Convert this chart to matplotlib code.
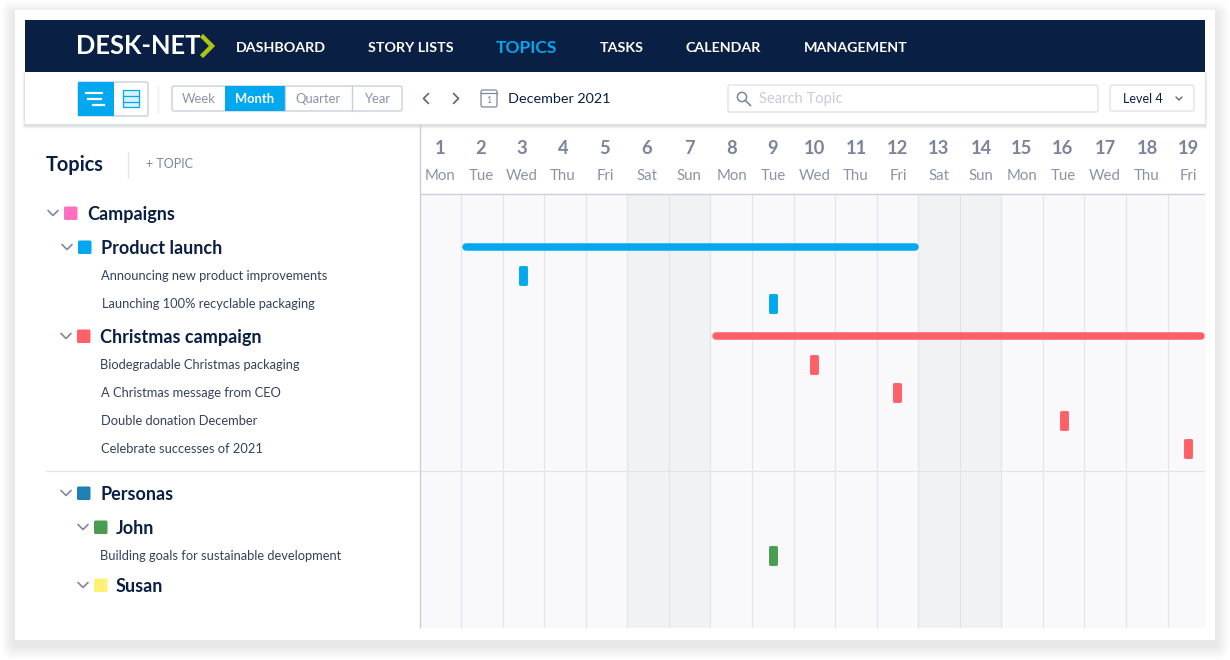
import matplotlib
matplotlib.use("Agg")
import matplotlib.pyplot as plt
from matplotlib.patches import Rectangle, FancyBboxPatch

plt.rcParams['font.family'] = ['Lato', 'DejaVu Sans']

# --- datos ---
nav_items = ["DASHBOARD", "STORY LISTS", "TOPICS", "TASKS", "CALENDAR", "MANAGEMENT"]
range_options = ["Week", "Month", "Quarter", "Year"]
days = list(range(1, 20))
weekdays = ["Mon", "Tue", "Wed", "Thu", "Fri", "Sat", "Sun",
            "Mon", "Tue", "Wed", "Thu", "Fri", "Sat", "Sun",
            "Mon", "Tue", "Wed", "Thu", "Fri"]
weekend_days = [6, 7, 13, 14]

group_names = ["Campaigns", "Product launch", "Christmas campaign", "Personas", "John", "Susan"]
group_colors = ["#ff6fbd", "#00a8f0", "#ff5f66", "#1f80b5", "#4a9c50", "#fff176"]
topic_names = ["Announcing new product improvements", "Launching 100% recyclable packaging",
               "Biodegradable Christmas packaging", "A Christmas message from CEO",
               "Double donation December", "Celebrate successes of 2021",
               "Building goals for sustainable development"]

span_names = ["Product launch", "Christmas campaign"]
span_start = [2.13, 8.13]
span_end = [12.93, 19.8]
span_colors = ["#00a8f0", "#ff5f66"]

topic_day = [3, 9, 10, 12, 16, 19, 9]
topic_colors = ["#00a8f0", "#00a8f0", "#ff5f66", "#ff5f66", "#ff5f66", "#ff5f66", "#4a9c50"]

# --- layout en pixeles ---
NAVY = "#0a1f44"
BLUE = "#00a8f0"
GREY = "#7d879c"
TEXT = "#33415c"
LINE = "#d9dde5"
nav_x = [236, 368, 496, 600, 686, 804]
range_edges = [172, 225, 285, 352, 402]
group_y = [213, 247, 336, 493, 527, 585]
group_x = [64, 78, 77, 77, 94, 94]
group_text_x = [87, 101, 100, 100, 116, 116]
topic_y = [275, 303, 364, 392, 420, 448, 555]
topic_x = [101, 102, 100, 101, 101, 101, 100]
span_y = [247, 336]
day_label_x = [440, 481, 522, 563, 605, 647, 689, 732, 773, 815, 856, 898, 939, 981, 1022, 1063, 1105, 1147, 1188]
GRID_LEFT, GRID_RIGHT, GRID_TOP, GRID_BOTTOM = 419.5, 1205, 194.5, 628
DAY_W = 41.56

fig = plt.figure(figsize=(12.3, 6.6), dpi=100, facecolor="white")
W, H = 1230, 660
bg = fig.add_axes([0, 0, 1, 1])
bg.set_xlim(0, W)
bg.set_ylim(H, 0)
bg.axis("off")


def sombra(x0, y0, x1, y1, capas=10, paso=1.5, dy=2, alpha=0.018, z=1):
    for i in range(capas, 0, -1):
        e = i * paso
        bg.add_patch(FancyBboxPatch((x0 - e, y0 - e + dy), x1 - x0 + 2 * e, y1 - y0 + 2 * e,
                                    boxstyle="round,pad=0,rounding_size=%.1f" % e, fc="#1a2540",
                                    ec="none", alpha=alpha, zorder=z))


def caja(x0, y0, x1, y1, fc="white", ec=LINE, lw=1, r=2, z=5):
    bg.add_patch(FancyBboxPatch((x0, y0), x1 - x0, y1 - y0,
                                boxstyle="round,pad=0,rounding_size=%.1f" % r, fc=fc, ec=ec, lw=lw, zorder=z))


def chevron(x, y, s=5, d="down", color=GREY, lw=1.2):
    if d == "down":
        xs, ys = [x - s, x, x + s], [y - s * 0.5, y + s * 0.5, y - s * 0.5]
    elif d == "left":
        xs, ys = [x + s * 0.5, x - s * 0.5, x + s * 0.5], [y - s, y, y + s]
    else:
        xs, ys = [x - s * 0.5, x + s * 0.5, x - s * 0.5], [y - s, y, y + s]
    bg.plot(xs, ys, color=color, lw=lw, zorder=7, solid_capstyle="round")


def txt(x, y, s, size, color=TEXT, weight="normal", ha="left"):
    bg.text(x, y + 1.3, s, fontsize=size, color=color, fontweight=weight, ha=ha, va="center", zorder=8)


# tarjeta
sombra(15, 10, 1215, 640, capas=12, paso=1.2, dy=5, alpha=0.009)
bg.add_patch(Rectangle((15, 10), 1200, 630, fc="white", ec="none", zorder=2))

# barra superior
bg.add_patch(Rectangle((25, 20), 1180, 52, fc=NAVY, ec="none", zorder=4))
txt(76, 45, "DESK-NET", 18.4, "white", "bold")
bg.plot([203, 212, 203], [37, 46, 55], color="#a9c516", lw=3.2, zorder=8, solid_joinstyle="miter")
for i, nombre in enumerate(nav_items):
    if nombre == "TOPICS":
        txt(nav_x[i], 46.5, nombre, 12.6, BLUE, "bold")
    else:
        txt(nav_x[i], 46.5, nombre, 10.3, "white", "bold")

# barra de herramientas
sombra(25, 72, 1205, 124, capas=4, paso=0.6, dy=2, alpha=0.035, z=3)
bg.add_patch(Rectangle((25, 72), 1180, 52, fc="white", ec="none", zorder=4))
caja(78, 82, 148, 116, ec="#c9d0dc")
bg.add_patch(Rectangle((78, 82), 36, 34, fc=BLUE, ec="none", zorder=6))
for (xa, xb, yy) in [(86, 102, 92.5), (88, 101, 98.5), (93, 104, 104.5)]:
    bg.plot([xa, xb], [yy, yy], color="white", lw=1.6, zorder=7)
bg.add_patch(Rectangle((123, 90), 16, 17, fc="#d8f1fd", ec=BLUE, lw=0.9, zorder=7))
for yy in [96, 101.5]:
    bg.plot([123, 139], [yy, yy], color=BLUE, lw=0.9, zorder=8)
bg.plot([158, 158], [86, 112], color="#eceef2", lw=1, zorder=6)

caja(172, 86, 402, 111, ec="#c9d0dc")
for i, nombre in enumerate(range_options):
    centro = (range_edges[i] + range_edges[i + 1]) / 2
    if nombre == "Month":
        bg.add_patch(Rectangle((range_edges[i], 86), range_edges[i + 1] - range_edges[i], 25, fc=BLUE, ec="none", zorder=6))
        txt(centro, 98, nombre, 9.4, "white", "bold", "center")
    else:
        txt(centro, 98, nombre, 9.4, "#8a93a6", ha="center")
    if i in (2, 3):
        bg.plot([range_edges[i]] * 2, [86, 111], color="#c9d0dc", lw=1, zorder=6)

chevron(426, 98.5, s=5, d="left", color="#5c667a")
chevron(456, 98.5, s=5, d="right", color="#5c667a")
caja(481, 90, 497, 107, fc="white", ec="#7d879c", lw=0.9)
bg.plot([481, 497], [93, 93], color="#7d879c", lw=0.9, zorder=7)
txt(489, 99, "1", 6.5, "#7d879c", ha="center")
txt(508, 98, "December 2021", 10.4, NAVY)

caja(728, 85, 1098, 112, ec="#dfe2e8")
bg.add_patch(plt.Circle((742, 97), 4.6, fc="none", ec="#7d879c", lw=1.1, zorder=7))
bg.plot([745.5, 750.5], [100.5, 105.5], color="#7d879c", lw=1.2, zorder=7)
txt(759, 98, "Search Topic", 10.6, "#c6cbd6")
caja(1110, 85, 1194, 111, ec="#dfe2e8")
txt(1123, 98, "Level 4", 9, NAVY)
chevron(1179, 98.5, s=3, color="#5c667a", lw=1)

# columna izquierda
txt(46, 164, "Topics", 14.3, NAVY, "bold")
bg.plot([128, 128], [152, 178], color="#e3e6eb", lw=1, zorder=6)
txt(146, 163, "+ TOPIC", 9, "#7d879c")
for i, nombre in enumerate(group_names):
    c_x = group_x[i]
    bg.add_patch(FancyBboxPatch((c_x, group_y[i] - 6.5), 13.5, 13.5, boxstyle="round,pad=0,rounding_size=1.5",
                                fc=group_colors[i], ec="none", zorder=6))
    chevron(c_x - 11, group_y[i], s=5)
    txt(group_text_x[i], group_y[i], nombre, 13, NAVY, "bold")
for i, nombre in enumerate(topic_names):
    txt(topic_x[i], topic_y[i], nombre, 9.3, TEXT)
bg.plot([46, 420], [470.5, 470.5], color="#e3e6eb", lw=1, zorder=6)

# parte gantt: x en dias, y en pixeles de fila
ax = fig.add_axes([GRID_LEFT / W, 1 - GRID_BOTTOM / H, (GRID_RIGHT - GRID_LEFT) / W, (GRID_BOTTOM - 124) / H],
                  facecolor="none", zorder=3)
ax.set_xlim(1, 1 + (GRID_RIGHT - GRID_LEFT) / DAY_W)
ax.set_ylim(GRID_BOTTOM, 124)
ax.axis("off")

ax.fill_between([1, 21], GRID_TOP, GRID_BOTTOM, color="#f9f9fc", lw=0, zorder=1)
for d in weekend_days:
    ax.fill_between([d, d + 1], GRID_TOP, GRID_BOTTOM, color="#f1f2f4", lw=0, zorder=2)
ax.vlines(days[1:], GRID_TOP, GRID_BOTTOM, color="#e1e3ea", lw=0.8, zorder=3)
ax.vlines([1], 124, GRID_BOTTOM, color="#c9cedb", lw=1, zorder=3, clip_on=False)
ax.hlines([GRID_TOP - 0.5], 1, 21, color="#c9cedb", lw=1, zorder=3)
ax.hlines([470.5], 1, 21, color="#e1e3ea", lw=0.8, zorder=3)

for d, dia, px in zip(days, weekdays, day_label_x):
    xd = 1 + (px - GRID_LEFT) / DAY_W
    ax.text(xd, 148, str(d), fontsize=13.2, color="#7b8499", fontweight="bold", ha="center", va="center", zorder=5)
    ax.text(xd, 176, dia, fontsize=10.8, color="#8a93a6", ha="center", va="center", zorder=5)

for i in range(len(span_names)):
    ax.plot([span_start[i], span_end[i]], [span_y[i], span_y[i]], color=span_colors[i], lw=5.4,
            solid_capstyle="round", zorder=6)

# los temas son marcas de 9x20 px centradas en su dia
ax.bar([d + 0.5 for d in topic_day], 17, width=6 / DAY_W, bottom=[y - 8 for y in topic_y],
       color=topic_colors, edgecolor=topic_colors, linewidth=2.1, joinstyle="round", zorder=6)

fig.savefig("out.png", dpi=100)
